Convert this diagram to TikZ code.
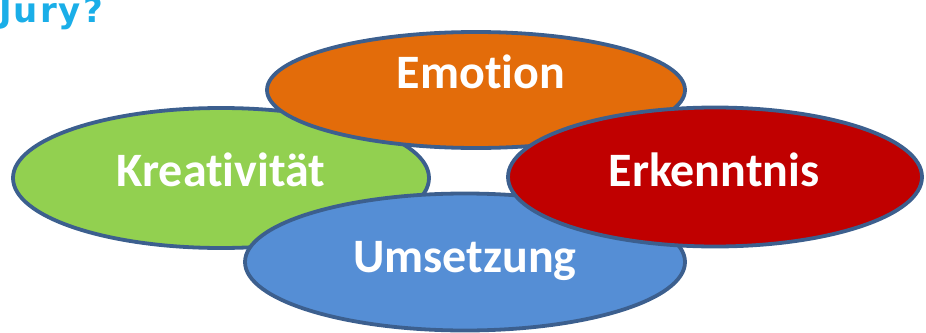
\documentclass[tikz,border=0pt]{standalone}
\usepackage{fontspec}
\setmainfont[Ligatures=NoCommon]{Carlito}
\newfontfamily\juryfont[LetterSpace=6]{DejaVu Sans}
\usetikzlibrary{shapes.geometric}
\definecolor{borderc}{HTML}{3C5F8E}
\definecolor{orangec}{HTML}{E36C0A}
\definecolor{greenc}{HTML}{92D050}
\definecolor{redc}{HTML}{C00000}
\definecolor{bluec}{HTML}{558ED5}
\definecolor{juryc}{HTML}{1AAEE8}
\tikzset{
  blob/.style={ellipse, draw=borderc, line width=3.8pt, inner sep=0pt},
  lbl/.style={text=white, inner sep=0pt, font=\fontsize{48}{52}\selectfont\bfseries},
}
\begin{document}
\begin{tikzpicture}[x=1pt,y=-1pt]
\useasboundingbox (0,0) rectangle (926,332);
\begin{scope}
\clip (0,0) rectangle (926,332);
\node[anchor=base west, inner sep=0pt, text=juryc, font=\juryfont\bfseries\fontsize{34}{36}\selectfont] (jury) at (-1,22) {Jury?};
\node[blob, fill=greenc, minimum width=416pt, minimum height=140pt] (krea) at (221,178) {};
\node[blob, fill=orangec, minimum width=418pt, minimum height=116pt] (emo) at (476,90) {};
\node[blob, fill=bluec, minimum width=440pt, minimum height=137pt] (ums) at (465,262) {};
\node[blob, fill=redc, minimum width=414pt, minimum height=139pt] (erk) at (715,177) {};
\node[lbl, anchor=base] (temo) at (481,88) {Emotion};
\node[lbl, anchor=base] (tkrea) at (221,186) {Kreativität};
\node[lbl, anchor=base] (terk) at (714,186) {Erkenntnis};
\node[lbl, anchor=base] (tums) at (465,272) {Umsetzung};
\end{scope}
\end{tikzpicture}
\end{document}
